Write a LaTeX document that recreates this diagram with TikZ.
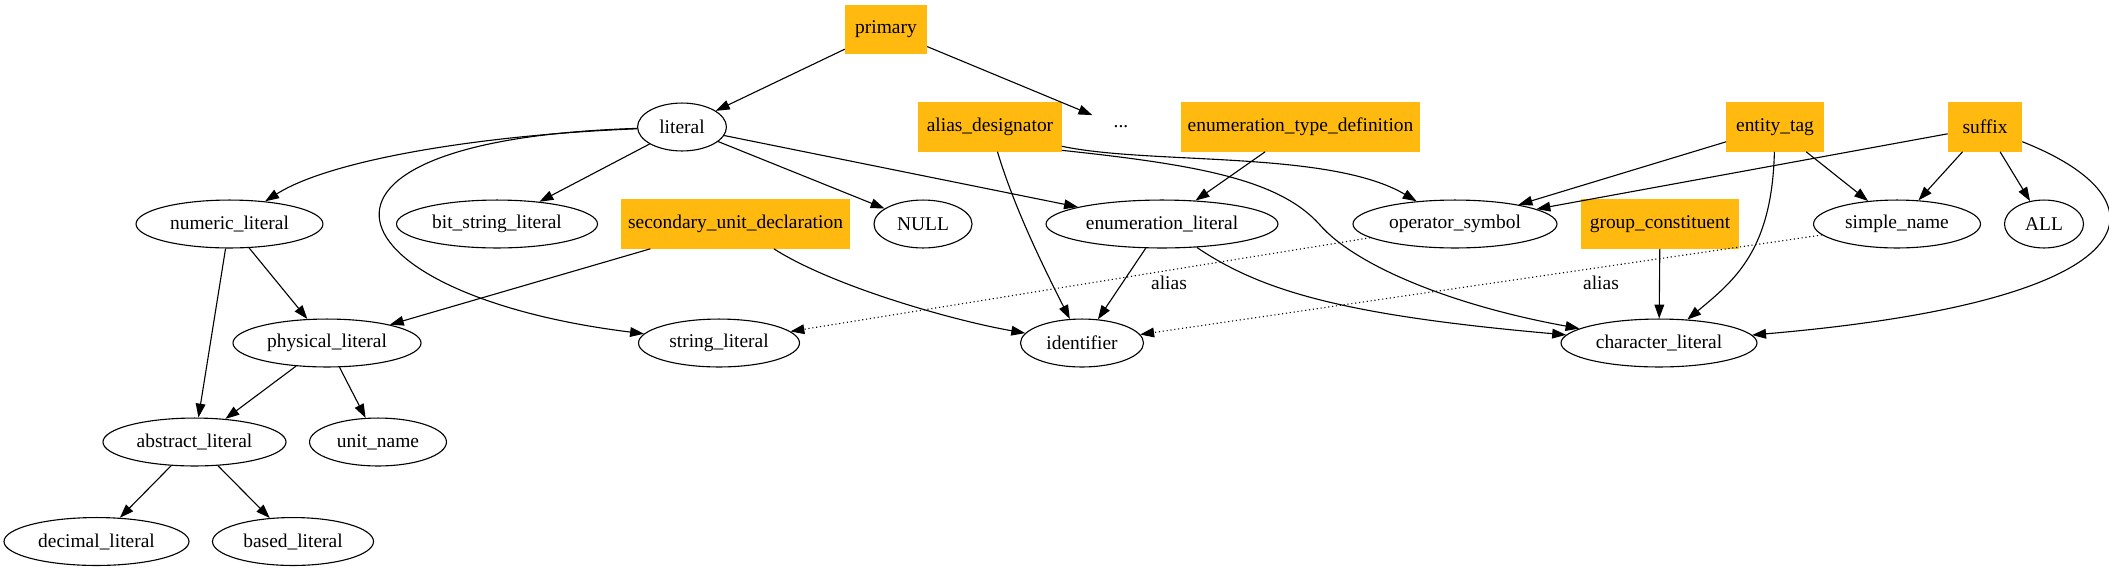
\documentclass[tikz,border=0pt]{standalone}
\usepackage{fontspec}
\setmainfont{Liberation Serif}
\usetikzlibrary{arrows.meta,shapes.geometric}
\definecolor{goldbox}{HTML}{FFB90F}

\tikzset{
  ell/.style={draw, ellipse, line width=0.8pt, inner sep=0pt, minimum height=34.5pt},
  goldnode/.style={fill=goldbox, inner sep=0pt, minimum height=35.3pt},
  arr/.style={-{Triangle[length=10pt,width=7pt]}, line width=0.8pt},
  aka/.style={arr, dotted},
}

\begin{document}
\begin{tikzpicture}[x=0.72pt, y=-0.72pt, font=\fontsize{14}{16}\selectfont]
   \useasboundingbox (0,0) rectangle (2109,567);

   % top rows
   \node[goldnode, minimum width=59pt]  (primary)   at (886,29.5) {primary};
   \node[ell, minimum width=64pt]       (literal)   at (682,127)  {literal};
   \node[ellipse, minimum width=47pt, minimum height=34.5pt] (dots) at (1121,127) {...};
   \node[goldnode, minimum width=103pt] (aliasdes)  at (990,127)  {alias\_designator};
   \node[goldnode, minimum width=172pt] (enumtype)  at (1300.5,127) {enumeration\_type\_definition};
   \node[goldnode, minimum width=70pt]  (entitytag) at (1775,127) {entity\_tag};
   \node[goldnode, minimum width=53.3pt] (suffix)   at (1985,127) {suffix};

   % middle row
   \node[ell, minimum width=134.6pt] (numlit)   at (229.5,224) {numeric\_literal};
   \node[ell, minimum width=144.7pt] (bitlit)   at (497,224)   {bit\_string\_literal};
   \node[goldnode, minimum width=165pt] (secunit) at (735.5,224) {secondary\_unit\_declaration};
   \node[ell, minimum width=70.6pt]  (null)     at (923,224)   {NULL};
   \node[ell, minimum width=167pt]   (enumlit)  at (1162,224)  {enumeration\_literal};
   \node[ell, minimum width=146.9pt] (opsym)    at (1455,224)  {operator\_symbol};
   \node[goldnode, minimum width=113.8pt] (groupc) at (1660,224) {group\_constituent};
   \node[ell, minimum width=120.2pt] (simplename) at (1897,224) {simple\_name};
   \node[ell, minimum width=56.9pt]  (all)      at (2044,224)  {ALL};

   % lower rows
   \node[ell, minimum width=135.4pt] (physlit)  at (327,343)   {physical\_literal};
   \node[ell, minimum width=115.9pt] (strlit)   at (719,343)   {string\_literal};
   \node[ell, minimum width=88.6pt]  (ident)    at (1082,343)  {identifier};
   \node[ell, minimum width=141.1pt] (charlit)  at (1659,343)  {character\_literal};
   \node[ell, minimum width=131.8pt] (abslit)   at (194.5,442) {abstract\_literal};
   \node[ell, minimum width=98.6pt]  (unitname) at (378,442)   {unit\_name};
   \node[ell, minimum width=133.2pt] (declit)   at (96.5,541.5) {decimal\_literal};
   \node[ell, minimum width=115.9pt] (basedlit) at (293,541.5) {based\_literal};

   \node (alias1) at (1169,283) {alias};
   \node (alias2) at (1601,283) {alias};

   % edges
   \draw[arr] (primary) -- (literal);
   \draw[arr] (primary) -- (dots);
   \draw[arr] (literal) .. controls (480,135) and (330,160) .. (numlit);
   \draw[arr] (literal) .. controls (260,140) and (330,295) .. (strlit);
   \draw[arr] (literal) -- (bitlit);
   \draw[arr] (literal) -- (null);
   \draw[arr] (literal) -- (enumlit);
   \draw[arr] (numlit) -- (physlit);
   \draw[arr] (numlit) -- (abslit);
   \draw[arr] (secunit) -- (physlit);
   \draw[arr] (secunit) .. controls (830,285) and (950,320) .. (ident);
   \draw[arr] (physlit) -- (abslit);
   \draw[arr] (physlit) -- (unitname);
   \draw[arr] (abslit) -- (declit);
   \draw[arr] (abslit) -- (basedlit);
   \draw[arr] (aliasdes) .. controls (1015,210) and (1045,270) .. (ident);
   \draw[arr] (aliasdes.-15) .. controls (1150,165) and (1330,150) .. (opsym);
   \draw[arr] (aliasdes.-18) .. controls (1200,165) and (1280,180) .. (1320,225)
                             .. controls (1355,265) and (1450,305) .. (charlit);
   \draw[arr] (enumtype) -- (enumlit);
   \draw[arr] (enumlit) -- (ident);
   \draw[arr] (enumlit) .. controls (1260,290) and (1340,315) .. (charlit);
   \draw[aka] (opsym) -- (strlit);
   \draw[aka] (simplename) -- (ident);
   \draw[arr] (entitytag) -- (opsym);
   \draw[arr] (entitytag) -- (simplename);
   \draw[arr] (entitytag) .. controls (1772,250) and (1735,280) .. (charlit);
   \draw[arr] (suffix) -- (opsym);
   \draw[arr] (suffix) -- (simplename);
   \draw[arr] (suffix) -- (all);
   \draw[arr] (suffix) .. controls (2170,200) and (2160,300) .. (charlit);
   \draw[arr] (groupc) -- (charlit);
\end{tikzpicture}
\end{document}
